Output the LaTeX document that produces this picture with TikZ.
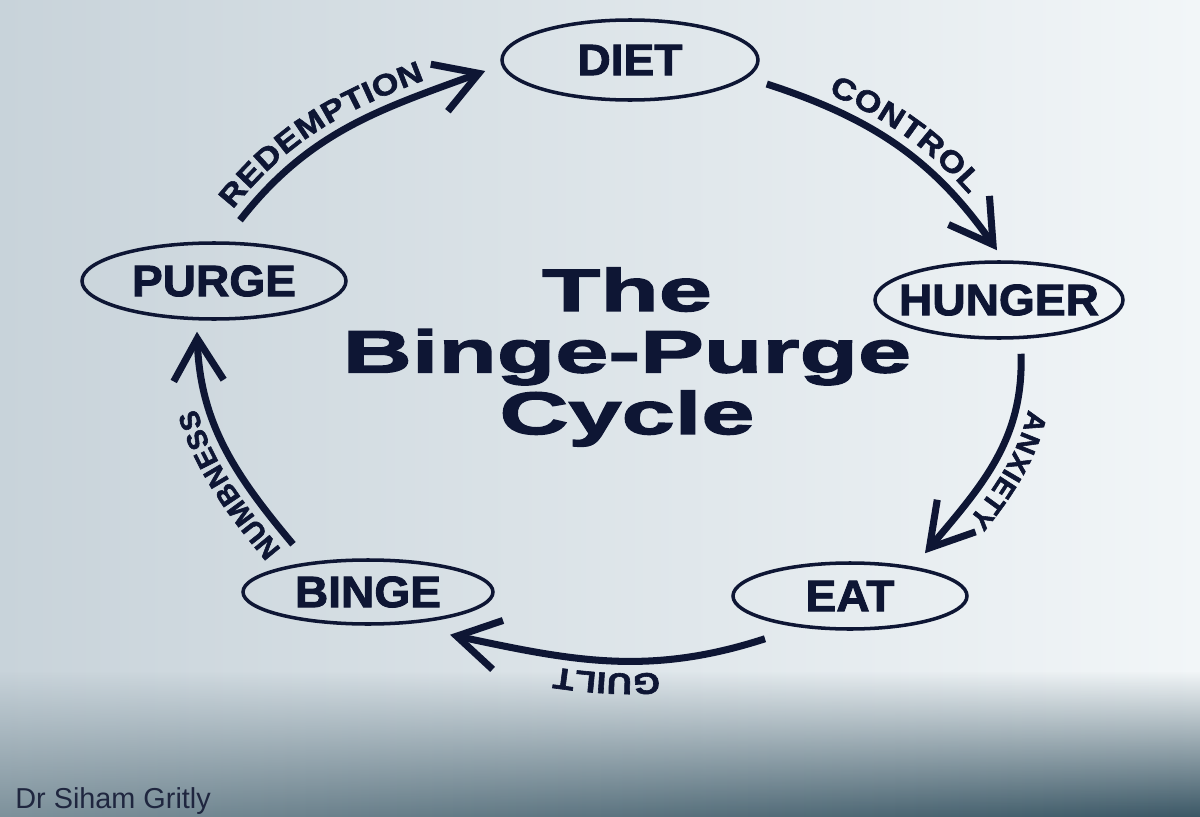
\documentclass[tikz,border=0pt]{standalone}
\usepackage{fontspec}
\usepackage{xcolor}
\usepackage{tikz}
\usetikzlibrary{
	arrows.meta,
	calc,
	shapes.geometric,
	decorations.text,
	fadings
}
\setmainfont{Liberation Sans}
\newfontfamily\titlefont{Liberation Sans}[FakeStretch=1.6,BoldFeatures={FakeBold=2.5}]
\newfontfamily\stagefont{Liberation Sans}[FakeStretch=1.05,BoldFeatures={FakeBold=2}]
\newfontfamily\arcfont{Liberation Sans}[FakeStretch=1.15,BoldFeatures={FakeBold=2}]
\newfontfamily\arcfontn{Liberation Sans}[FakeStretch=1.0,BoldFeatures={FakeBold=2}]
\newcommand{\arclab}{\arcfont\bfseries\fontsize{8.5}{9}\selectfont\color{NavyInk}}
\newcommand{\arclabn}{\arcfontn\bfseries\fontsize{8}{9}\selectfont\color{NavyInk}}
\newcommand{\stname}[1]{\makebox[0pt]{#1}}
\definecolor{NavyInk}{RGB}{14,22,52}
\definecolor{ScreenL}{RGB}{200,211,218}
\definecolor{ScreenM}{RGB}{228,235,240}
\definecolor{ScreenR}{RGB}{242,246,248}
\definecolor{BandL}{RGB}{125,145,155}
\definecolor{BandR}{RGB}{60,88,102}

\begin{document}
\begin{tikzpicture}[
	stage/.style={ellipse, draw=NavyInk, line width=1pt, inner sep=0pt, text=NavyInk,
		font=\stagefont\bfseries\fontsize{12.5}{13}\selectfont},
	cyc/.style={draw=NavyInk, line width=2pt,
		-{Straight Barb[length=0.42cm, width=0.5cm]}},
	arclabel/.style={postaction={decorate, decoration={text along path,
		text={#1}, text align=center, raise=3.5pt}}},
	arclabelstart/.style={postaction={decorate, decoration={text along path,
		text={#1}, text align={left indent=1pt}, raise=3.5pt}}}
	]
	\useasboundingbox (0,0) rectangle (12,8.16);
	% screen background
	\shade[left color=ScreenL, middle color=ScreenM, right color=ScreenR] (0,0) rectangle (12,8.16);
	\shade[left color=BandL, right color=BandR, path fading=north] (0,0) rectangle (12,1.45);

	% stages of the cycle
	\node[stage, minimum width=2.56cm, minimum height=0.80cm] (diet) at (6.30,7.56) {\stname{DIET}};
	\node[stage, minimum width=2.48cm, minimum height=0.76cm] (hunger) at (9.99,5.16) {\stname{HUNGER}};
	\node[stage, minimum width=2.34cm, minimum height=0.66cm] (eat) at (8.50,2.20) {\stname{EAT}};
	\node[stage, minimum width=2.50cm, minimum height=0.64cm] (binge) at (3.68,2.24) {\stname{BINGE}};
	\node[stage, minimum width=2.64cm, minimum height=0.76cm] (purge) at (2.14,5.35) {\stname{PURGE}};

	% title
	\node[align=center, text=NavyInk, font=\titlefont\bfseries\fontsize{17}{17.5}\selectfont]
		(title) at (6.27,4.59) {The\\Binge-Purge\\Cycle};

	% arrows between stages
	\draw[cyc, arclabelstart={|\arclab|REDEMPTION}] ([shift={(0.26,0.21)}]purge.north) to[out=52, in=200] ([shift={(-0.15,-0.11)}]diet.west);
	\draw[cyc, arclabel={|\arclab|CONTROL}] ([shift={(0.07,-0.24)}]diet.east) to[out=-18, in=125] ([shift={(-0.02,0.10)}]hunger.north);
	\draw[cyc, arclabel={|\arclabn|ANXIETY}] ([shift={(0.22,-0.14)}]hunger.south) to[out=-88, in=50] ([shift={(0.75,0.08)}]eat.north);
	\draw[cyc, arclabel={|\arclab|GUILT}] ([shift={(-0.85,-0.08)}]eat.south) to[out=198, in=-12] ([shift={(0.82,-0.09)}]binge.south);
	\draw[cyc, arclabelstart={|\arclabn|NUMBNESS}] ([shift={(-0.75,0.14)}]binge.north) to[out=130, in=-88] ([shift={(-0.17,-0.11)}]purge.south);

	% credit
	\node[anchor=base west, text=NavyInk!85!gray, font=\fontsize{8.2}{10}\selectfont] (credit) at (0.03,0.08) {Dr Siham Gritly};
\end{tikzpicture}
\end{document}
